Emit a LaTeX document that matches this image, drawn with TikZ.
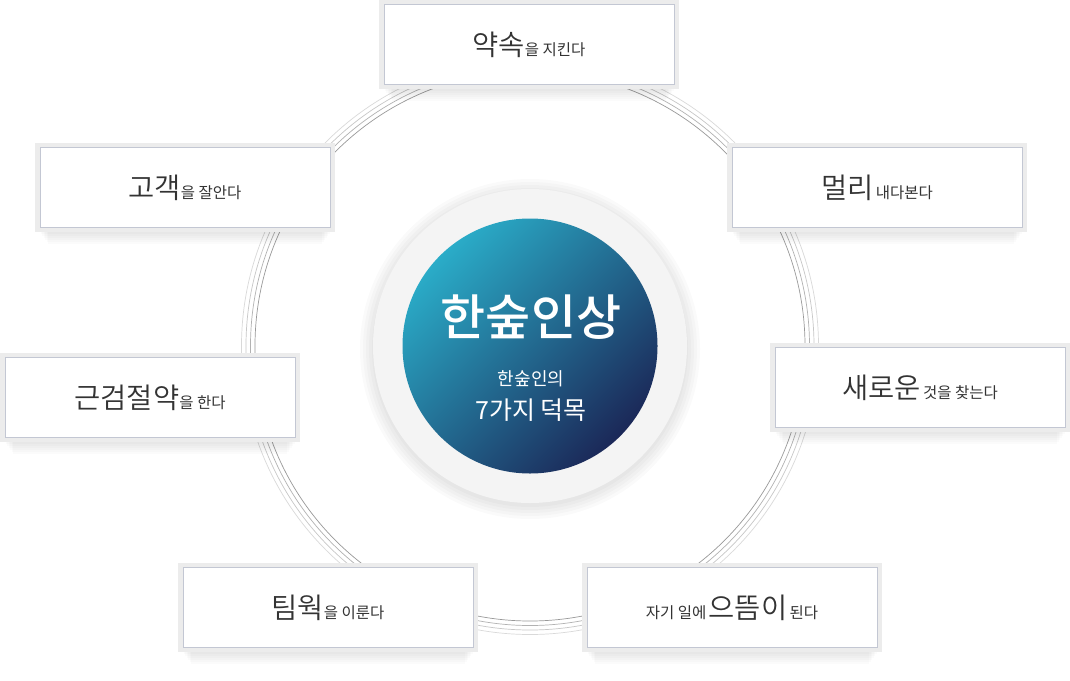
\documentclass[tikz,border=0pt]{standalone}
\usepackage{fontspec}
\newfontfamily\kr{Noto Sans CJK KR}
\newfontfamily\krmed{Noto Sans CJK KR Medium}
\newfontfamily\krlight{Noto Sans CJK KR DemiLight}
\definecolor{txt}{HTML}{333333}
\definecolor{frameg}{HTML}{ECECEC}
\definecolor{cardline}{HTML}{C3C7D3}
\definecolor{halo}{HTML}{F4F4F4}
\definecolor{gradA}{HTML}{2AACC8}
\definecolor{gradB}{HTML}{1B2858}
\tikzset{
  frame/.style={fill=frameg, minimum width=300pt, minimum height=89pt, inner sep=0pt},
  card/.style={fill=white, draw=cardline, line width=0.8pt, minimum width=290pt, minimum height=80pt, inner sep=0pt, text=txt, font=\kr},
  ringline/.style={line width=0.7pt},
}
\newcommand{\bigtxt}[1]{{\krlight\fontsize{28.5}{32}\selectfont #1}}
\newcommand{\smltxt}[1]{{\fontsize{15.5}{18}\selectfont #1}}
\newcommand{\cardat}[4]{%
  \foreach \k in {1,...,6}{\fill[black, opacity=0.015] (#2-146+\k*1.5,#3+32) rectangle (#2+146-\k*1.5,#3+44+\k*2);}
  \node[frame] (#1f) at (#2,#3) {};
  \node[card] (#1) at (#2,#3) {\raisebox{-2pt}{#4}};
}
\begin{document}
\begin{tikzpicture}[x=1pt,y=-1pt]
\useasboundingbox (0,0) rectangle (1070,680);
\fill[white] (0,0) rectangle (1070,680);
% ring
\coordinate (c) at (530,346);
\draw[ringline, color=black!40] (c) circle[radius=275pt];
\draw[ringline, color=black!30] (c) circle[radius=279.5pt];
\draw[ringline, color=black!22] (c) circle[radius=284pt];
\draw[ringline, color=black!15] (c) circle[radius=288.5pt];
% halo with soft shadow
\foreach \r in {158,161,164,167,170}{\fill[black, opacity=0.018] (530,349) circle[radius=\r pt];}
\fill[halo] (c) circle[radius=157pt];
\shade[top color=gradA, bottom color=gradB, shading angle=45] (c) circle[radius=127.5pt];
\node[text=white, font=\krmed\fontsize{49}{52}\selectfont, inner sep=0pt] (title) at (531,317) {한숲인상};
\node[text=white, font=\kr\fontsize{18}{20}\selectfont, inner sep=0pt] (sub1) at (531,379) {한숲인의};
\node[text=white, font=\kr\fontsize{25}{28}\selectfont, inner sep=0pt] (sub2) at (531,410) {7가지 덕목};
% cards
\cardat{b1}{529}{44.5}{\bigtxt{약속}\smltxt{을 지킨다}}
\cardat{b2}{185}{187.5}{\bigtxt{고객}\smltxt{을 잘안다}}
\cardat{b3}{877}{187.5}{\bigtxt{멀리} \smltxt{내다본다}}
\cardat{b4}{150}{397.5}{\bigtxt{근검절약}\smltxt{을 한다}}
\cardat{b5}{920}{387.5}{\bigtxt{새로운} \smltxt{것을 찾는다}}
\cardat{b6}{328}{607.5}{\bigtxt{팀웍}\smltxt{을 이룬다}}
\cardat{b7}{732}{607.5}{\smltxt{자기 일에} \bigtxt{으뜸이} \smltxt{된다}}
\end{tikzpicture}
\end{document}
